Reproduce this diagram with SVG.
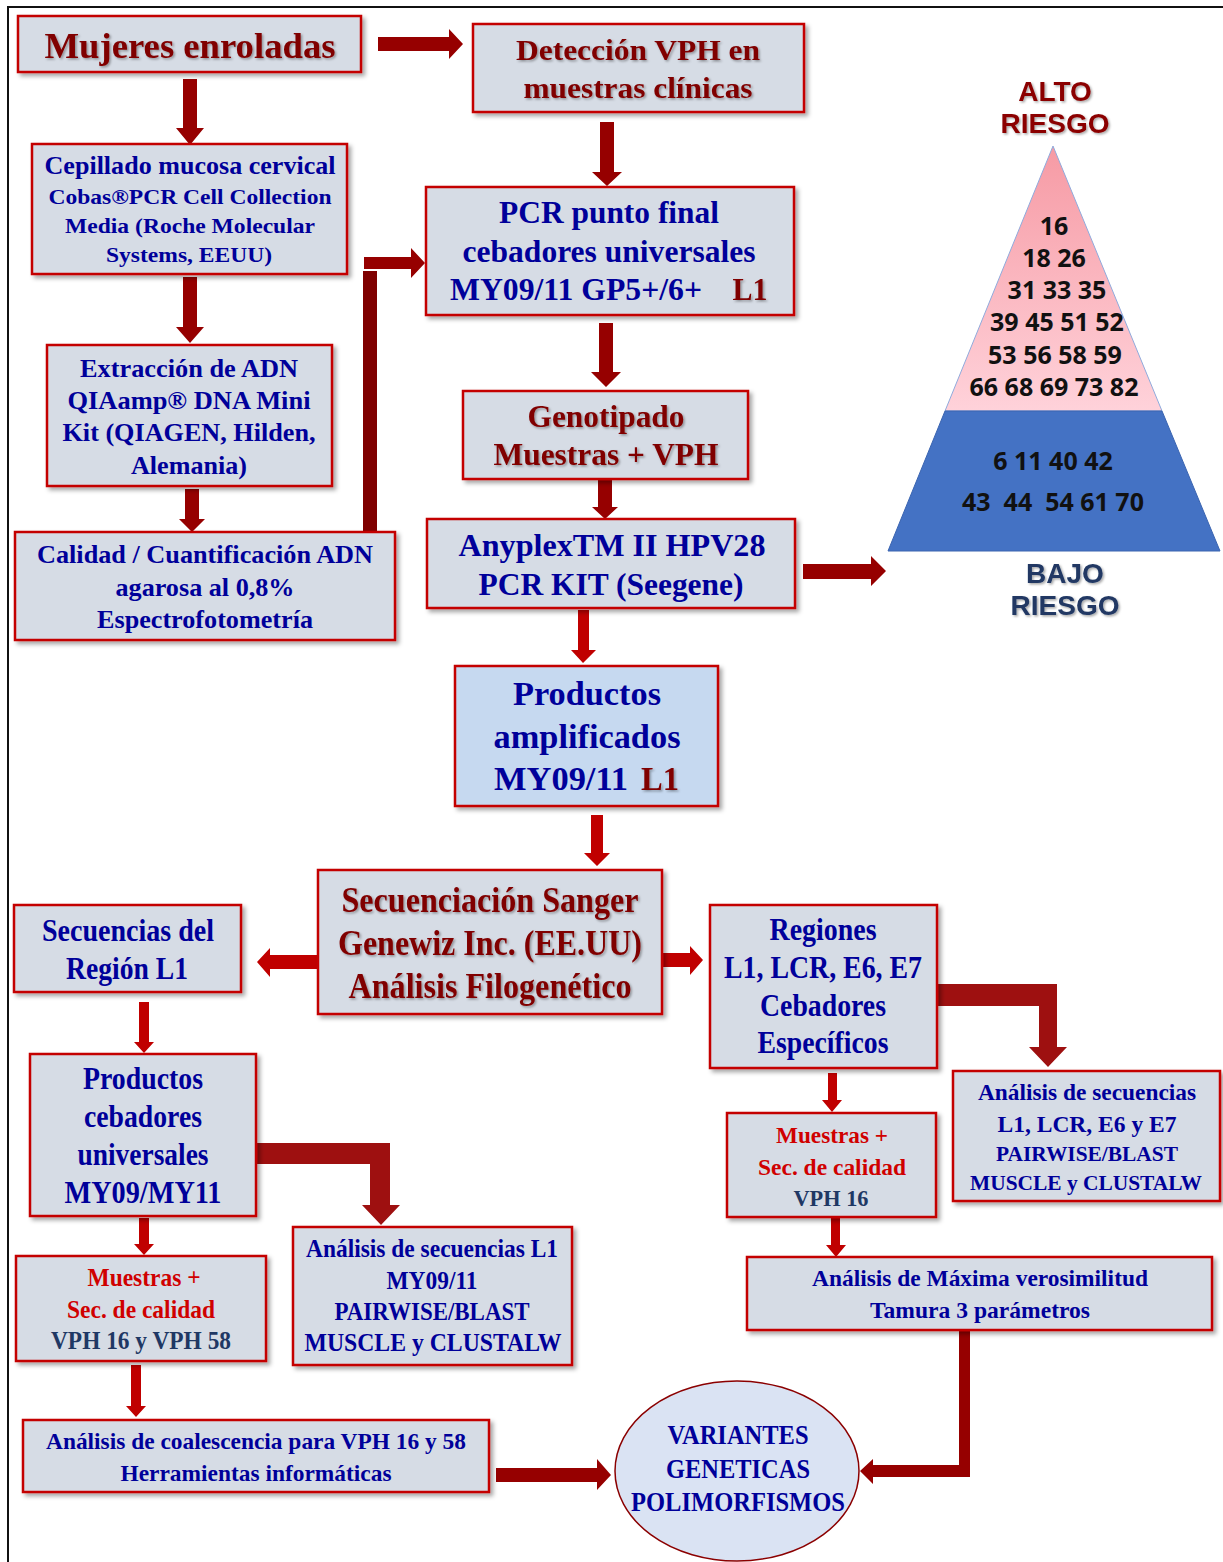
<svg xmlns="http://www.w3.org/2000/svg" width="1223" height="1562" viewBox="0 0 1223 1562">
  <defs>
    <filter id="shadow" x="-10%" y="-10%" width="130%" height="130%">
      <feDropShadow dx="3" dy="3" stdDeviation="2" flood-color="#000" flood-opacity="0.35"/>
    </filter>
    <filter id="tshadow" x="-5%" y="-20%" width="115%" height="150%">
      <feDropShadow dx="1.5" dy="1.5" stdDeviation="1" flood-color="#000" flood-opacity="0.35"/>
    </filter>
    <linearGradient id="pink" x1="0" y1="0" x2="0" y2="1">
      <stop offset="0" stop-color="#f69aa4"/>
      <stop offset="1" stop-color="#ffd2da"/>
    </linearGradient>
    <style>
      .box { fill: #d6dce5; stroke: #c40000; stroke-width: 2.5; filter: url(#shadow); }
      .box2 { fill: #c6d9f0; stroke: #c40000; stroke-width: 2.5; filter: url(#shadow); }
      text { font-family: "Liberation Serif", "Times New Roman", serif; font-weight: bold; text-anchor: middle; }
      .blue { fill: #00009a; }
      .dred { fill: #800000; filter: url(#tshadow); }
      .red { fill: #d00000; }
      .navy { fill: #1f3864; }
      .ar1 { fill: #960000; }
      .ar2 { fill: #c00000; }
      .ar3 { fill: #9e1010; }
      .ar4 { fill: #7f0000; }
      .num { font-family: "Open Sans", "DejaVu Sans", sans-serif; font-size: 25px; fill: #111; }
      .risk { font-family: "Liberation Sans", Arial, sans-serif; font-size: 28px; filter: url(#tshadow); }
    </style>
  </defs>

  <!-- frame -->
  <path d="M8 1562 V7 H1223" fill="none" stroke="#111" stroke-width="2"/>

  <!-- connectors -->
  <g id="connectors">
    <polygon class="ar1" points="378,37 449,37 449,29 463,44 449,59 449,51 378,51"/>
    <polygon class="ar1" points="183,79 197,79 197,128 204,128 190,145 176,128 183,128"/>
    <polygon class="ar1" points="600,122 614,122 614,172 622,172 607,186 592,172 600,172"/>
    <polygon class="ar1" points="183,277 197,277 197,327 204,327 190,343 176,327 183,327"/>
    <polygon class="ar1" points="185,489 199,489 199,519 205,519 192,532 179,519 185,519"/>
    <rect class="ar4" x="363" y="271" width="14" height="261"/>
    <polygon class="ar1" points="364,257 411,257 411,248 425,263 411,278 411,269 364,269"/>
    <polygon class="ar1" points="599,323 613,323 613,372 621,372 606,387 591,372 599,372"/>
    <polygon class="ar1" points="598,480 612,480 612,507 618,507 605,519 592,507 598,507"/>
    <polygon class="ar1" points="803,564 871,564 871,556 886,571 871,586 871,579 803,579"/>
    <polygon class="ar2" points="578,610 589,610 589,650 596,650 583,663 571,650 578,650"/>
    <polygon class="ar2" points="591,815 603,815 603,853 610,853 597,866 584,853 591,853"/>
    <polygon class="ar2" points="318,955 270,955 270,948 257,962 270,977 270,969 318,969"/>
    <polygon class="ar2" points="662,953 690,953 690,946 703,960 690,975 690,967 662,967"/>
    <polygon class="ar3" points="937,984 1057,984 1057,1047 1067,1047 1048,1067 1029,1047 1039,1047 1039,1006 937,1006"/>
    <polygon class="ar2" points="828,1073 837,1073 837,1100 842,1100 832,1112 822,1100 828,1100"/>
    <polygon class="ar2" points="831,1218 840,1218 840,1245 846,1245 836,1257 826,1245 831,1245"/>
    <polygon class="ar1" points="959,1331 970,1331 970,1477 873,1477 873,1484 860,1471 873,1459 873,1465 959,1465"/>
    <polygon class="ar2" points="139,1002 149,1002 149,1042 154,1042 144,1053 134,1042 139,1042"/>
    <polygon class="ar3" points="256,1143 390,1143 390,1205 400,1205 381,1225 362,1205 370,1205 370,1164 256,1164"/>
    <polygon class="ar2" points="139,1218 149,1218 149,1244 154,1244 144,1255 134,1244 139,1244"/>
    <polygon class="ar2" points="131,1365 141,1365 141,1406 146,1406 136,1417 126,1406 131,1406"/>
    <polygon class="ar1" points="496,1468 597,1468 597,1459 611,1475 597,1490 597,1482 496,1482"/>
  </g>

  <!-- nodes -->
  <g id="mujeres">
    <rect class="box" x="18" y="16" width="343" height="56"/>
    <text class="dred" x="190" y="58" font-size="36" textLength="291" lengthAdjust="spacingAndGlyphs">Mujeres enroladas</text>
  </g>

  <g id="deteccion">
    <rect class="box" x="473" y="24" width="331" height="88"/>
    <text class="dred" x="638" y="60" font-size="30" textLength="244" lengthAdjust="spacingAndGlyphs">Detección VPH en</text>
    <text class="dred" x="638" y="98" font-size="30" textLength="229" lengthAdjust="spacingAndGlyphs">muestras clínicas</text>
  </g>

  <g id="cepillado">
    <rect class="box" x="32" y="144" width="315" height="130"/>
    <text class="blue" x="190" y="174" font-size="26" textLength="291" lengthAdjust="spacingAndGlyphs">Cepillado mucosa cervical</text>
    <text class="blue" x="190" y="204" font-size="22" textLength="283" lengthAdjust="spacingAndGlyphs">Cobas®PCR Cell Collection</text>
    <text class="blue" x="190" y="233" font-size="22" textLength="250" lengthAdjust="spacingAndGlyphs">Media (Roche Molecular</text>
    <text class="blue" x="189" y="262" font-size="22" textLength="166" lengthAdjust="spacingAndGlyphs">Systems, EEUU)</text>
  </g>

  <g id="pcr">
    <rect class="box" x="426" y="187" width="368" height="128"/>
    <text class="blue" x="609" y="223" font-size="31" textLength="220" lengthAdjust="spacingAndGlyphs">PCR punto final</text>
    <text class="blue" x="609" y="262" font-size="31" textLength="293" lengthAdjust="spacingAndGlyphs">cebadores universales</text>
    <text class="blue" x="576" y="300" font-size="31" textLength="252" lengthAdjust="spacingAndGlyphs">MY09/11 GP5+/6+</text>
    <text class="dred" x="750" y="300" font-size="31" textLength="35" lengthAdjust="spacingAndGlyphs">L1</text>
  </g>

  <g id="extraccion">
    <rect class="box" x="47" y="345" width="285" height="141"/>
    <text class="blue" x="189" y="377" font-size="26" textLength="218" lengthAdjust="spacingAndGlyphs">Extracción de ADN</text>
    <text class="blue" x="189" y="409" font-size="26" textLength="243" lengthAdjust="spacingAndGlyphs">QIAamp® DNA Mini</text>
    <text class="blue" x="189" y="441" font-size="26" textLength="253" lengthAdjust="spacingAndGlyphs">Kit (QIAGEN, Hilden,</text>
    <text class="blue" x="189" y="474" font-size="26" textLength="116" lengthAdjust="spacingAndGlyphs">Alemania)</text>
  </g>

  <g id="genotipado">
    <rect class="box" x="463" y="391" width="285" height="88"/>
    <text class="dred" x="606" y="427" font-size="31" textLength="157" lengthAdjust="spacingAndGlyphs">Genotipado</text>
    <text class="dred" x="606" y="465" font-size="31" textLength="225" lengthAdjust="spacingAndGlyphs">Muestras + VPH</text>
  </g>

  <g id="calidad">
    <rect class="box" x="15" y="532" width="380" height="108"/>
    <text class="blue" x="205" y="563" font-size="26" textLength="336" lengthAdjust="spacingAndGlyphs">Calidad / Cuantificación ADN</text>
    <text class="blue" x="205" y="596" font-size="26" textLength="179" lengthAdjust="spacingAndGlyphs">agarosa al 0,8%</text>
    <text class="blue" x="205" y="628" font-size="26" textLength="216" lengthAdjust="spacingAndGlyphs">Espectrofotometría</text>
  </g>

  <g id="anyplex">
    <rect class="box" x="427" y="519" width="368" height="89"/>
    <text class="blue" x="612" y="556" font-size="32" textLength="307" lengthAdjust="spacingAndGlyphs">AnyplexTM  II HPV28</text>
    <text class="blue" x="611" y="595" font-size="32" textLength="265" lengthAdjust="spacingAndGlyphs">PCR KIT (Seegene)</text>
  </g>

  <g id="productos-amplificados">
    <rect class="box2" x="455" y="666" width="263" height="140"/>
    <text class="blue" x="587" y="705" font-size="34" textLength="148" lengthAdjust="spacingAndGlyphs">Productos</text>
    <text class="blue" x="587" y="748" font-size="34" textLength="187" lengthAdjust="spacingAndGlyphs">amplificados</text>
    <text class="blue" x="561" y="790" font-size="34" textLength="134" lengthAdjust="spacingAndGlyphs">MY09/11</text>
    <text class="dred" x="660" y="790" font-size="34" textLength="38" lengthAdjust="spacingAndGlyphs">L1</text>
  </g>

  <g id="secuenciacion">
    <rect class="box" x="318" y="870" width="344" height="144"/>
    <text class="dred" x="490" y="912" font-size="36" textLength="297" lengthAdjust="spacingAndGlyphs">Secuenciación Sanger</text>
    <text class="dred" x="490" y="955" font-size="36" textLength="304" lengthAdjust="spacingAndGlyphs">Genewiz Inc. (EE.UU)</text>
    <text class="dred" x="490" y="998" font-size="36" textLength="283" lengthAdjust="spacingAndGlyphs">Análisis Filogenético</text>
  </g>

  <g id="secuencias-l1">
    <rect class="box" x="14" y="905" width="227" height="87"/>
    <text class="blue" x="128" y="941" font-size="32" textLength="172" lengthAdjust="spacingAndGlyphs">Secuencias del</text>
    <text class="blue" x="127" y="979" font-size="32" textLength="122" lengthAdjust="spacingAndGlyphs">Región L1</text>
  </g>

  <g id="regiones">
    <rect class="box" x="710" y="905" width="227" height="163"/>
    <text class="blue" x="823" y="940" font-size="31" textLength="107" lengthAdjust="spacingAndGlyphs">Regiones</text>
    <text class="blue" x="823" y="978" font-size="31" textLength="198" lengthAdjust="spacingAndGlyphs">L1, LCR, E6, E7</text>
    <text class="blue" x="823" y="1016" font-size="31" textLength="126" lengthAdjust="spacingAndGlyphs">Cebadores</text>
    <text class="blue" x="823" y="1053" font-size="31" textLength="131" lengthAdjust="spacingAndGlyphs">Específicos</text>
  </g>

  <g id="productos-cebadores">
    <rect class="box" x="30" y="1054" width="226" height="162"/>
    <text class="blue" x="143" y="1089" font-size="31" textLength="120" lengthAdjust="spacingAndGlyphs">Productos</text>
    <text class="blue" x="143" y="1127" font-size="31" textLength="118" lengthAdjust="spacingAndGlyphs">cebadores</text>
    <text class="blue" x="143" y="1165" font-size="31" textLength="131" lengthAdjust="spacingAndGlyphs">universales</text>
    <text class="blue" x="143" y="1203" font-size="31" textLength="157" lengthAdjust="spacingAndGlyphs">MY09/MY11</text>
  </g>

  <g id="analisis-regiones">
    <rect class="box" x="953" y="1071" width="267" height="130"/>
    <text class="blue" x="1087" y="1100" font-size="24" textLength="218" lengthAdjust="spacingAndGlyphs">Análisis de secuencias</text>
    <text class="blue" x="1087" y="1132" font-size="24" textLength="179" lengthAdjust="spacingAndGlyphs">L1, LCR, E6 y E7</text>
    <text class="blue" x="1087" y="1161" font-size="22" textLength="182" lengthAdjust="spacingAndGlyphs">PAIRWISE/BLAST</text>
    <text class="blue" x="1086" y="1190" font-size="22" textLength="232" lengthAdjust="spacingAndGlyphs">MUSCLE y CLUSTALW</text>
  </g>

  <g id="muestras-vph16">
    <rect class="box" x="727" y="1113" width="209" height="104"/>
    <text class="red" x="832" y="1143" font-size="24" textLength="112" lengthAdjust="spacingAndGlyphs">Muestras +</text>
    <text class="red" x="832" y="1175" font-size="24" textLength="148" lengthAdjust="spacingAndGlyphs">Sec. de calidad</text>
    <text class="navy" x="831" y="1206" font-size="24" textLength="75" lengthAdjust="spacingAndGlyphs">VPH 16</text>
  </g>

  <g id="analisis-l1">
    <rect class="box" x="293" y="1227" width="279" height="138"/>
    <text class="blue" x="432" y="1257" font-size="25" textLength="252" lengthAdjust="spacingAndGlyphs">Análisis de secuencias L1</text>
    <text class="blue" x="432" y="1289" font-size="25" textLength="91" lengthAdjust="spacingAndGlyphs">MY09/11</text>
    <text class="blue" x="432" y="1320" font-size="25" textLength="195" lengthAdjust="spacingAndGlyphs">PAIRWISE/BLAST</text>
    <text class="blue" x="433" y="1351" font-size="25" textLength="257" lengthAdjust="spacingAndGlyphs">MUSCLE y CLUSTALW</text>
  </g>

  <g id="muestras-vph16-58">
    <rect class="box" x="16" y="1256" width="250" height="105"/>
    <text class="red" x="144" y="1286" font-size="25" textLength="113" lengthAdjust="spacingAndGlyphs">Muestras +</text>
    <text class="red" x="141" y="1318" font-size="25" textLength="148" lengthAdjust="spacingAndGlyphs">Sec. de calidad</text>
    <text class="navy" x="141" y="1349" font-size="25" textLength="180" lengthAdjust="spacingAndGlyphs">VPH 16 y VPH 58</text>
  </g>

  <g id="maxima-verosimilitud">
    <rect class="box" x="747" y="1257" width="465" height="73"/>
    <text class="blue" x="980" y="1286" font-size="23" textLength="336" lengthAdjust="spacingAndGlyphs">Análisis de Máxima verosimilitud</text>
    <text class="blue" x="980" y="1318" font-size="23" textLength="220" lengthAdjust="spacingAndGlyphs">Tamura 3 parámetros</text>
  </g>

  <g id="coalescencia">
    <rect class="box" x="23" y="1420" width="466" height="72"/>
    <text class="blue" x="256" y="1449" font-size="24" textLength="420" lengthAdjust="spacingAndGlyphs">Análisis de coalescencia para VPH 16 y 58</text>
    <text class="blue" x="256" y="1481" font-size="24" textLength="271" lengthAdjust="spacingAndGlyphs">Herramientas informáticas</text>
  </g>

  <g id="variantes">
    <ellipse cx="737" cy="1471" rx="122" ry="90" fill="#dae3f3" stroke="#8b0000" stroke-width="1.5"/>
    <text class="blue" x="738" y="1444" font-size="27" textLength="141" lengthAdjust="spacingAndGlyphs">VARIANTES</text>
    <text class="blue" x="738" y="1478" font-size="27" textLength="144" lengthAdjust="spacingAndGlyphs">GENETICAS</text>
    <text class="blue" x="738" y="1511" font-size="27" textLength="214" lengthAdjust="spacingAndGlyphs">POLIMORFISMOS</text>
  </g>

  <!-- risk pyramid -->
  <g id="piramide">
    <text class="risk" x="1055" y="101" fill="#8b0000">ALTO</text>
    <text class="risk" x="1055" y="133" fill="#8b0000">RIESGO</text>
    <polygon points="1053,146 1162,411 945,411" fill="url(#pink)" stroke="#8faadc" stroke-width="1"/>
    <polygon points="945,411 1162,411 1220,551 888,551" fill="#4472c4" stroke="#3a64b0" stroke-width="1"/>
    <text class="num" x="1054" y="235">16</text>
    <text class="num" x="1054" y="267">18 26</text>
    <text class="num" x="1057" y="299">31 33 35</text>
    <text class="num" x="1057" y="331">39 45 51 52</text>
    <text class="num" x="1055" y="364">53 56 58 59</text>
    <text class="num" x="1054" y="396">66 68 69 73 82</text>
    <text class="num" x="1053" y="470">6 11 40 42</text>
    <text class="num" x="1053" y="511" xml:space="preserve">43  44  54 61 70</text>
    <text class="risk" x="1065" y="583" fill="#203864">BAJO</text>
    <text class="risk" x="1065" y="615" fill="#203864">RIESGO</text>
  </g>
</svg>
